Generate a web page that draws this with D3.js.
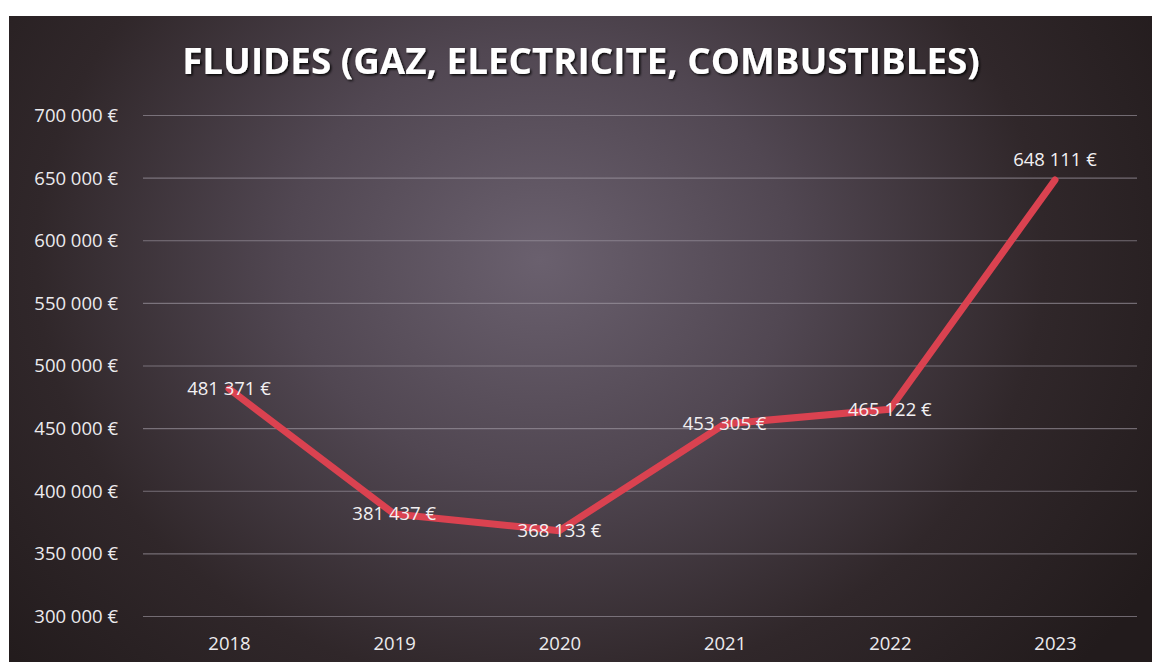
<!DOCTYPE html>
<html>
<head>
<meta charset="utf-8">
<script src="https://cdn.jsdelivr.net/npm/d3@7"></script>
<style>
  html, body { margin: 0; padding: 0; background: #ffffff; }
  svg { display: block; }
</style>
</head>
<body>
<svg id="chart" width="1156" height="662"></svg>
<script>
const title = "FLUIDES (GAZ, ELECTRICITE, COMBUSTIBLES)";
const years = ["2018", "2019", "2020", "2021", "2022", "2023"];
const values = [481371, 381437, 368133, 453305, 465122, 648111];
const yTicks = [300000, 350000, 400000, 450000, 500000, 550000, 600000, 650000, 700000];

const W = 1156, H = 662;
const svg = d3.select("#chart");
const defs = svg.append("defs");

const grad = defs.append("radialGradient")
  .attr("id", "bg").attr("gradientUnits", "userSpaceOnUse")
  .attr("cx", 540).attr("cy", 260).attr("r", 720)
  .attr("gradientTransform", "translate(540,260) scale(1,0.85) translate(-540,-260)");
grad.append("stop").attr("offset", "0").attr("stop-color", "#6a606e");
grad.append("stop").attr("offset", "0.35").attr("stop-color", "#514752");
grad.append("stop").attr("offset", "0.7").attr("stop-color", "#30272a");
grad.append("stop").attr("offset", "1").attr("stop-color", "#221b1c");

const shadow = defs.append("filter").attr("id", "shadow")
  .attr("x", "-5%").attr("y", "-30%").attr("width", "110%").attr("height", "160%");
shadow.append("feDropShadow").attr("dx", 1.5).attr("dy", 1.5)
  .attr("stdDeviation", 1.2).attr("flood-color", "#000").attr("flood-opacity", 0.9);

svg.append("rect").attr("x", 9).attr("y", 16).attr("width", 1143).attr("height", H - 16)
  .attr("fill", "url(#bg)");

const x = d3.scalePoint().domain(years).range([229, 1055]);
const y = d3.scaleLinear().domain([300000, 700000]).range([616, 115]);

const fmt = v => d3.format(",")(v).replace(/,/g, "\u00a0") + "\u00a0€";
const font = "Open Sans, sans-serif";

// gridlines
const gridG = svg.append("g").attr("transform", "translate(143,0)")
  .call(d3.axisLeft(y).tickValues(yTicks).tickSize(-(1137 - 143)).tickFormat(""));
gridG.select(".domain").remove();
gridG.selectAll(".tick line").attr("stroke", "#a49ca6").attr("stroke-opacity", 0.6).attr("stroke-width", 1.2);

// y labels
const yAx = svg.append("g").attr("transform", "translate(118,0)")
  .call(d3.axisLeft(y).tickValues(yTicks).tickSize(0).tickPadding(0).tickFormat(fmt));
yAx.select(".domain").remove();
yAx.selectAll("text").attr("fill", "#ecebee").attr("font-family", font)
  .attr("font-size", 18.5).attr("dy", "0.35em");

// x labels
const xAx = svg.append("g").attr("transform", "translate(0,637)")
  .call(d3.axisBottom(x).tickSize(0).tickPadding(0));
xAx.select(".domain").remove();
xAx.selectAll("text").attr("fill", "#ecebee").attr("font-family", font)
  .attr("font-size", 18.5).attr("dy", "0.71em");

// line
const line = d3.line().x((d, i) => x(years[i])).y(d => y(d));
svg.append("path").datum(values).attr("d", line)
  .attr("fill", "none").attr("stroke", "#da4250").attr("stroke-width", 7)
  .attr("stroke-linejoin", "round").attr("stroke-linecap", "round");

// labels
svg.append("g").selectAll("text").data(values).join("text")
  .attr("x", (d, i) => x(years[i]))
  .attr("y", (d, i) => i === values.length - 1 ? y(d) - 20 : y(d))
  .attr("dy", "0.35em")
  .attr("text-anchor", "middle")
  .attr("fill", "#f2f0f2").attr("font-family", font).attr("font-size", 18.5)
  .text(d => fmt(d));

// title
const t = svg.append("text").attr("x", 0).attr("y", 0).attr("text-anchor", "middle")
  .attr("fill", "#ffffff").attr("font-family", font)
  .attr("font-weight", "bold").attr("font-size", 28).attr("filter", "url(#shadow)")
  .text(title);
const tl = t.node().getComputedTextLength();
const fs = 28 * 798 / tl;
t.attr("font-size", fs);
const sy = 26 / (fs * 0.714);
t.attr("transform", `translate(581,74) scale(1,${sy})`);
</script>
</body>
</html>
